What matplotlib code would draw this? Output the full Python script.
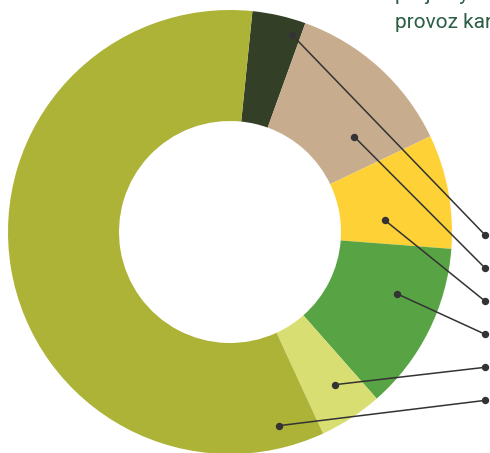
import matplotlib
matplotlib.use("Agg")
import matplotlib.pyplot as plt
import numpy as np

# Shares of the ring, clockwise from the top (percent)
segments = ["dark", "tan", "yellow", "green", "light", "olive"]
shares = [3.9, 12.4, 8.3, 12.3, 4.6, 58.5]
colors = ["#333F27", "#C8AC8E", "#FED136", "#58A344", "#D9DE72", "#ADB337"]

# Leader anchors: (fraction across the wedge, radius) and the row of the end dot
anchor_frac = [0.84, 0.73, 0.71, 0.36, 0.41, 0.05]
anchor_rad = [0.93, 0.705, 0.70, 0.80, 0.835, 0.90]
end_row = [0, 1, 2, 3, 4, 5]

header_lines = ["projekty a", "provoz kanceláří"]

fig = plt.figure(figsize=(4.90, 4.53), dpi=100)
ax = fig.add_axes([0, 0, 1, 1])

start = 90 - 5.8
wedges, _ = ax.pie(shares, colors=colors, startangle=start, counterclock=False,
                   radius=1.0, wedgeprops=dict(width=0.5, linewidth=0))

# ── Leader lines ──────────────────────────────────────────────────────────
cum = np.concatenate([[0], np.cumsum(shares)]) / 100.0 * 360.0
end_x = 1.149
end_y0 = -0.0135
end_step = -0.149
for i in range(len(shares)):
    a = np.deg2rad(start - (cum[i] + anchor_frac[i] * (cum[i + 1] - cum[i])))
    x0, y0 = anchor_rad[i] * np.cos(a), anchor_rad[i] * np.sin(a)
    x1, y1 = end_x, end_y0 + end_row[i] * end_step
    ax.plot([x0, x1], [y0, y1], color="#333333", linewidth=1.1,
            marker="o", markersize=4.3, zorder=5, clip_on=False)

ax.set_xlim(-230 / 222, 260 / 222)
ax.set_ylim((232 - 453) / 222, 232 / 222)
ax.set_aspect("equal", adjustable="datalim")
ax.axis("off")

# Header text, cut off by the top/right edge
fig.text(395 / 490, 1 - 0.5 / 453, header_lines[0], color="#2B5E45",
         fontsize=15, family=["Roboto", "DejaVu Sans"], va="baseline")
fig.text(395 / 490, 1 - 28 / 453, header_lines[1], color="#2B5E45",
         fontsize=15, family=["Roboto", "DejaVu Sans"], va="baseline")

fig.savefig("out.png", dpi=100)
